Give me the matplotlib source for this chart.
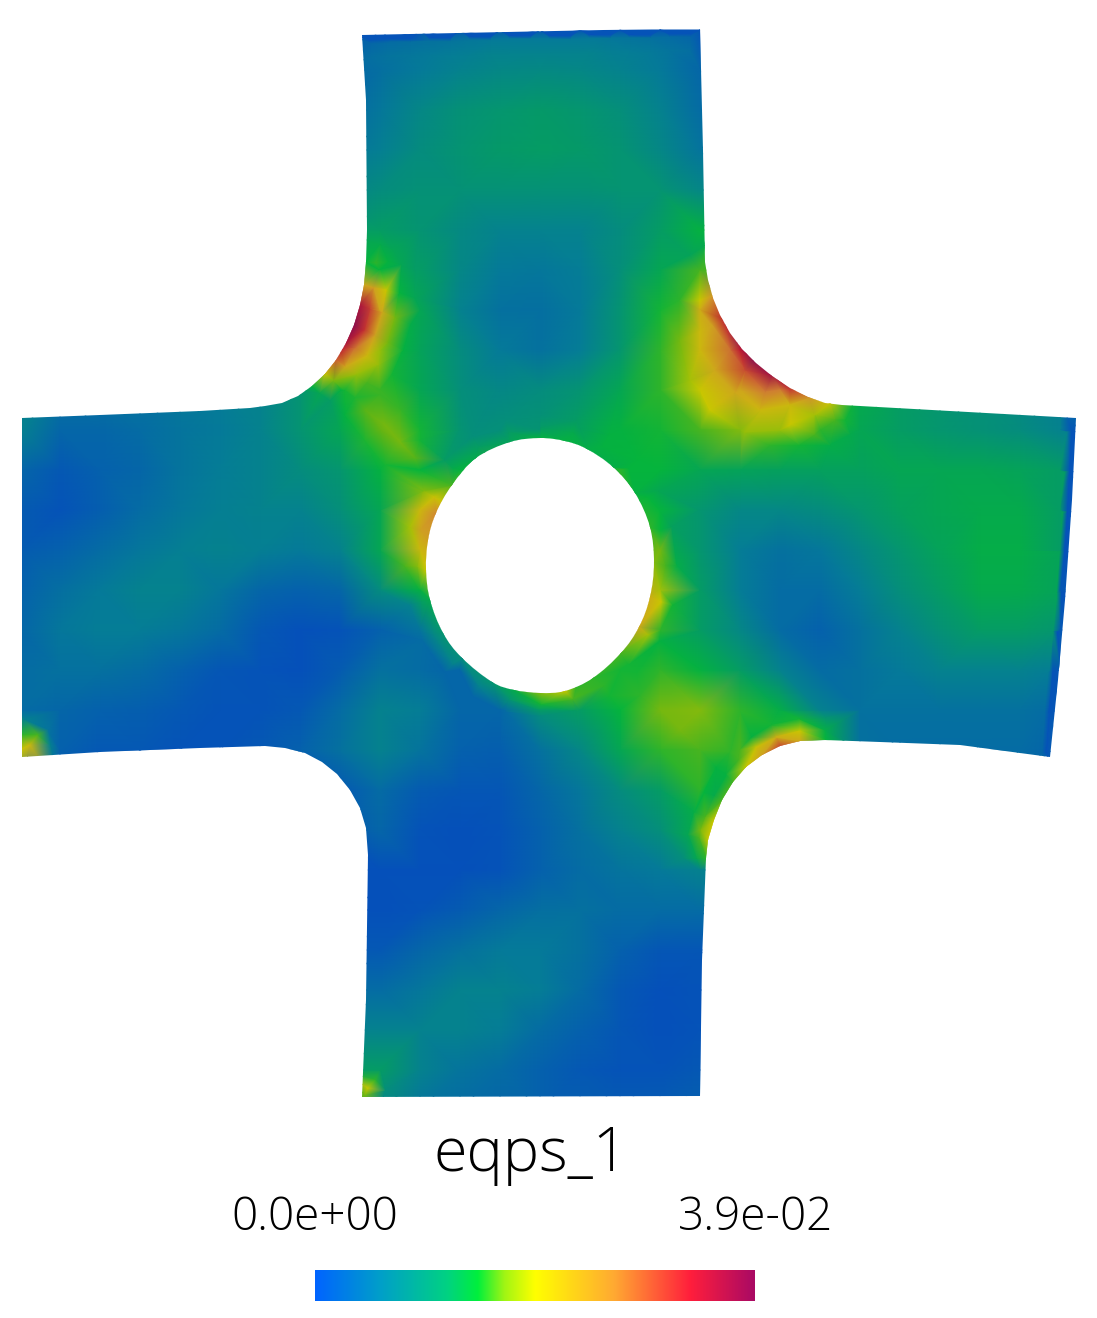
import numpy as np
import matplotlib
matplotlib.use('Agg')
import matplotlib.pyplot as plt
import matplotlib.tri as mtri
from matplotlib.colors import LinearSegmentedColormap
from matplotlib.path import Path
from matplotlib.patches import PathPatch

### Shape of the deformed plate (picture pixels)
outline_x = [362, 700, 703, 705, 708, 713, 720, 730, 742, 756, 772, 790, 808, 825, 842, 1076, 1072, 1065, 1058, 1050,
             960, 880, 825, 800, 780, 762, 746, 733, 722, 714, 708, 706, 702, 700, 362, 366, 368, 366, 360, 350, 337, 322,
             305, 285, 265, 200, 100, 22, 22, 100, 200, 250, 265, 282, 298, 312, 325, 336, 346, 354, 360, 364, 366, 367, 366]
outline_y = [35, 28, 150, 262, 280, 298, 315, 333, 349, 363, 376, 388, 397, 403, 405, 418, 500, 600, 680, 757,
             745, 742, 740, 741, 746, 755, 767, 782, 800, 820, 840, 858, 960, 1096, 1097, 1000, 855, 828, 808, 790, 774, 762,
             753, 748, 746, 748, 752, 757, 418, 415, 411, 408, 406, 403, 396, 386, 374, 360, 343, 325, 305, 285, 262, 230, 100]
hole_x = [540, 565, 587, 613, 635, 650, 654, 650, 639, 621, 593, 565, 540, 514, 492, 462, 443, 430,
          426, 428, 436, 452, 476, 510]
hole_y = [438, 441, 449, 467, 493, 527, 563, 597, 627, 653, 678, 691, 693, 690, 682, 658, 633, 600,
          570, 540, 513, 485, 458, 442]
hole_v = [.36, .36, .35, .35, .36, .4, .46, .58, .6, .42, .4, .5, .46, .34, .28, .25, .28, .34,
          .5, .62, .68, .42, .34, .32]

### eqps_1, as a fraction of the colour bar
# rows every 40 px, columns every 40 px starting at x0
row_y = [30, 70, 110, 150, 190, 230, 270, 310, 350]
row_x0 = [340] * 9
row_vals = [
    [.03, .03, .03, .03, .03, .03, .03, .03, .03, .03, .03],
    [.1, .13, .17, .2, .22, .23, .22, .2, .17, .1, .1],
    [.1, .16, .22, .26, .28, .29, .28, .25, .2, .12, .12],
    [.15, .19, .24, .27, .29, .3, .29, .27, .22, .15, .15],
    [.2, .24, .26, .26, .26, .26, .26, .27, .27, .22, .22],
    [.3, .3, .27, .23, .2, .2, .2, .24, .3, .36, .36],
    [.5, .37, .3, .22, .17, .16, .18, .25, .33, .42, .5],
    [.9, .6, .33, .2, .14, .13, .17, .27, .38, .58, .9],
    [.85, .47, .32, .24, .17, .14, .18, .28, .4, .55, .85],
]
arm_y = [390, 430, 470, 510, 550, 590, 630, 670, 710, 750, 790]
arm_vals = [
    [.2, .15, .15, .15, .17, .18, .2, .27, .36, .41, .33, .25, .22, .24, .27, .33, .4, .5, .6, .7, .6, .34, .3, .28, .25, .22, .18, .18],
    [.2, .1, .1, .12, .15, .17, .2, .27, .33, .44, .38, .27, .25, .27, .31, .36, .38, .42, .46, .47, .4, .33, .3, .28, .26, .24, .2, .03],
    [.1, .05, .08, .1, .15, .18, .2, .24, .28, .36, .37, .36, .4, .4, .4, .4, .37, .33, .32, .31, .31, .31, .33, .33, .33, .32, .3, .03],
    [.06, .03, .07, .12, .16, .19, .2, .2, .25, .33, .55, .5, .4, .4, .4, .4, .37, .28, .22, .22, .24, .28, .31, .33, .34, .34, .3, .03],
    [.06, .08, .12, .16, .19, .2, .19, .17, .2, .33, .55, .5, .4, .4, .4, .4, .45, .28, .18, .14, .16, .22, .28, .32, .35, .35, .3, .03],
    [.08, .13, .17, .2, .2, .16, .1, .08, .1, .24, .36, .3, .3, .3, .3, .5, .48, .3, .18, .12, .12, .18, .25, .3, .34, .34, .05, .03],
    [.1, .16, .18, .18, .16, .12, .05, .02, .03, .08, .15, .3, .35, .35, .38, .38, .4, .3, .22, .12, .08, .14, .2, .26, .3, .3, .05, .03],
    [.12, .14, .14, .12, .08, .04, .03, .02, .06, .14, .12, .1, .3, .4, .38, .38, .4, .36, .3, .2, .12, .14, .17, .2, .2, .2, .05, .03],
    [.12, .1, .08, .07, .05, .03, .03, .05, .12, .2, .18, .1, .1, .3, .3, .37, .45, .46, .4, .35, .2, .14, .14, .14, .14, .14, .05, .03],
    [.5, .08, .05, .05, .03, .03, .05, .08, .14, .2, .15, .08, .07, .14, .22, .33, .4, .42, .42, .75, .4, .14, .12, .12, .12, .12, .1, .08],
    [.05, .05, .05, .05, .05, .05, .05, .05, .05, .12, .06, .04, .04, .1, .16, .24, .3, .4, .5, .5, .2, .12, .12, .12, .12, .12, .12, .12],
]
leg_y = [830, 870, 910, 950, 990, 1030, 1070, 1110]
leg_vals = [
    [.05, .1, .03, .02, .03, .08, .14, .2, .25, .45, .45],
    [.02, .02, .02, .02, .03, .08, .12, .15, .17, .2, .2],
    [.02, .02, .03, .06, .1, .13, .14, .12, .12, .12, .12],
    [.05, .05, .1, .14, .17, .17, .14, .08, .04, .04, .04],
    [.12, .12, .16, .2, .2, .18, .12, .05, .02, .03, .03],
    [.2, .2, .2, .2, .18, .12, .08, .04, .02, .03, .03],
    [.3, .3, .2, .15, .12, .08, .05, .03, .03, .05, .05],
    [.3, .2, .15, .12, .1, .08, .07, .06, .06, .08, .08],
]
# two rings just outside the hole
ring_x = [541, 576, 609, 637, 659, 672, 677, 672, 659, 637, 609, 576, 541, 506, 473, 445, 423, 410, 405, 410, 423, 445, 473, 506,
          541, 573, 603, 629, 648, 661, 665, 661, 648, 629, 603, 573, 541, 509, 479, 453, 434, 421, 417, 421, 434, 453, 479, 509]
ring_y = [416, 421, 436, 460, 491, 527, 566, 605, 641, 672, 696, 711, 716, 711, 696, 672, 641, 605, 566, 527, 491, 460, 436, 421,
          428, 433, 446, 468, 497, 530, 566, 602, 635, 664, 686, 699, 704, 699, 686, 664, 635, 602, 566, 530, 497, 468, 446, 433]
ring_v = [.26, .3, .36, .37, .33, .31, .35, .38, .36, .38, .38, .3, .24, .12, .1, .1, .12, .2, .42, .48, .46, .3, .25, .25,
          .3, .34, .36, .37, .37, .37, .42, .5, .48, .38, .4, .42, .38, .27, .2, .2, .22, .3, .46, .62, .52, .34, .3, .3]
# top left fillet, arcs going away from the edge
fillet_tl_x = [366, 364, 360, 354, 346, 336, 325, 312, 376, 374, 370, 364, 355, 345, 334, 320,
               388, 386, 382, 375, 367, 356, 344, 330, 401, 399, 395, 388, 378, 367, 355,
               415, 414, 410, 403, 392, 380, 380, 392]
fillet_tl_y = [262, 285, 305, 325, 343, 360, 374, 386, 263, 288, 308, 330, 348, 367, 381, 393,
               262, 290, 312, 335, 356, 375, 390, 400, 265, 293, 318, 342, 365, 383, 398,
               270, 298, 325, 350, 375, 395, 245, 250]
fillet_tl_v = [.37, .6, .9, .98, .9, .75, .52, .36, .4, .62, .8, .82, .72, .6, .45, .33,
               .36, .5, .6, .62, .55, .47, .38, .3, .33, .37, .45, .45, .47, .42, .39,
               .3, .33, .35, .36, .38, .41, .34, .33]
# olive band running from that fillet towards the hole
band_x = [365, 385, 400, 415, 345, 365, 385, 400, 420]
band_y = [410, 425, 442, 458, 415, 440, 465, 410, 440]
band_v = [.43, .45, .45, .43, .36, .39, .38, .41, .38]
# top right fillet
fillet_tr_x = [725, 740, 755, 772, 790, 810, 830, 715, 708, 712, 730, 745, 765, 790, 815, 835, 700, 700, 715, 735, 760, 790, 815,
               680, 680, 690, 710, 745, 845, 850, 830, 800, 770, 705, 690]
fillet_tr_y = [320, 340, 358, 375, 390, 398, 403, 295, 270, 325, 350, 370, 392, 405, 415, 420, 300, 330, 370, 392, 410, 425, 435,
               300, 340, 380, 410, 432, 420, 435, 445, 445, 445, 245, 255]
fillet_tr_v = [.85, .95, 1.0, .92, .8, .65, .52, .68, .42, .62, .72, .78, .7, .55, .48, .42, .5, .55, .6, .6, .55, .5, .42,
               .4, .45, .48, .5, .47, .38, .34, .35, .38, .4, .34, .32]
# bottom right fillet
fillet_br_x = [825, 800, 780, 762, 746, 733, 722, 714, 708, 706, 825, 800, 776, 756, 739, 726, 714, 705, 699, 696,
               825, 800, 772, 752, 730, 716, 704, 694, 688, 684, 680, 640]
fillet_br_y = [740, 741, 746, 755, 767, 782, 800, 820, 840, 858, 730, 731, 737, 747, 760, 775, 795, 816, 838, 858,
               718, 719, 725, 737, 752, 768, 792, 812, 835, 858, 730, 695]
fillet_br_v = [.37, .6, .78, .62, .5, .42, .42, .5, .5, .4, .35, .5, .58, .52, .42, .36, .34, .42, .42, .33,
               .28, .38, .38, .36, .4, .36, .37, .35, .33, .25, .45, .4]
# small spots in the corners of the left and bottom arms
corner_x = [30, 38, 22, 50, 25, 48, 368, 375, 365, 385]
corner_y = [745, 735, 735, 745, 720, 730, 1088, 1080, 1095, 1090]
corner_v = [.55, .42, .4, .2, .2, .15, .5, .4, .45, .25]
# thin blue rim along the top and the right side: rim value and the value just inside it
rim_top_x = [370, 390, 410, 430, 450, 470, 490, 510, 530, 550, 570, 590, 610, 630, 650, 670, 690]
rim_top_y = [35, 34, 34, 33, 33, 32, 32, 31, 31, 31, 31, 30, 30, 30, 30, 29, 29]
rim_top_inner = [.1, .12, .13, .14, .15, .16, .17, .17, .17, .17, .17, .17, .16, .15, .14, .12, .1]
rim_right_x = [1075, 1073, 1071, 1068, 1065, 1061, 1057, 1053, 1050]
rim_right_y = [432, 472, 512, 552, 592, 632, 672, 712, 752]
rim_right_inner = [.2, .3, .31, .32, .32, .28, .18, .12, .1]
rim_value = .03

# colours as they come out on the lit surface, and on the colour bar
stops = [0, .18, .28, .37, .44, .5, .68, .855, 1]
surface_colors = ['#054bbe', '#057d96', '#05966e', '#05b43c', '#64b414', '#c8c800', '#d28c32', '#be1932', '#820a50']
bar_stops = [0, .15, .3, .37, .43, .5, .68, .855, 1]
bar_colors = ['#0064ff', '#00a0c8', '#00d282', '#00f03c', '#a0f514', '#ffff00', '#ffaa32', '#ff1e3c', '#aa0a64']
bar_left, bar_right, bar_top, bar_bottom = 315, 755, 1270, 1301

title = 'eqps_1'
low_label = '0.0e+00'
high_label = '3.9e-02'

surface_cmap = LinearSegmentedColormap.from_list('surface', list(zip(stops, surface_colors)))
bar_cmap = LinearSegmentedColormap.from_list('bar', list(zip(bar_stops, bar_colors)))

xs, ys, vs = [], [], []
for y, x0, vals in zip(row_y, row_x0, row_vals):
    for i, v in enumerate(vals):
        xs.append(x0 + 40 * i); ys.append(y); vs.append(v)
for y, vals in zip(arm_y, arm_vals):
    for i, v in enumerate(vals):
        xs.append(20 + 40 * i); ys.append(y); vs.append(v)
for y, vals in zip(leg_y, leg_vals):
    for i, v in enumerate(vals):
        xs.append(340 + 40 * i); ys.append(y); vs.append(v)
xs += ring_x + fillet_tl_x + band_x + fillet_tr_x + fillet_br_x + corner_x + hole_x
ys += ring_y + fillet_tl_y + band_y + fillet_tr_y + fillet_br_y + corner_y + hole_y
vs += ring_v + fillet_tl_v + band_v + fillet_tr_v + fillet_br_v + corner_v + hole_v
for x, y, v in zip(rim_top_x, rim_top_y, rim_top_inner):
    xs += [x, x, x]; ys += [y + 5, y + 8, y + 22]; vs += [rim_value, v, v + .03]
for x, y, v in zip(rim_right_x, rim_right_y, rim_right_inner):
    xs += [x - 4, x - 8]; ys += [y, y]; vs += [rim_value, v]
xs = np.array(xs, dtype=float)
ys = np.array(ys, dtype=float)
vs = np.array(vs)

fig = plt.figure(figsize=(10.97, 13.18), dpi=100)
ax = fig.add_axes([0, 0, 1, 1])

tri = mtri.Triangulation(xs, ys)
mesh = ax.tripcolor(tri, vs, shading='gouraud', cmap=surface_cmap, vmin=0, vmax=1)

# plate outline with the hole cut out, used as a clip. hole goes through the read points as a smooth curve
outer = np.column_stack([outline_x, outline_y]).astype(float)
inner = np.column_stack([hole_x, hole_y])[::-1].astype(float)
verts = list(outer) + [outer[0]]
codes = [Path.MOVETO] + [Path.LINETO] * (len(outer) - 1) + [Path.CLOSEPOLY]
n = len(inner)
verts.append(inner[0]); codes.append(Path.MOVETO)
for i in range(n):
    p0, p1, p2, p3 = inner[i - 1], inner[i], inner[(i + 1) % n], inner[(i + 2) % n]
    verts += [p1 + (p2 - p0) / 6, p2 - (p3 - p1) / 6, p2]
    codes += [Path.CURVE4] * 3
verts.append(inner[0]); codes.append(Path.CLOSEPOLY)
shape = Path(verts, codes)
patch = PathPatch(shape, transform=ax.transData, facecolor='none', edgecolor='none')
ax.add_patch(patch)
mesh.set_clip_path(patch)

ax.imshow(np.linspace(0, 1, 256).reshape(1, -1), cmap=bar_cmap, aspect='auto',
          extent=(bar_left, bar_right, bar_bottom, bar_top), interpolation='bilinear')

ax.text(531, 1171, title, ha='center', va='baseline', fontsize=44, family='Open Sans', weight='light', color='black')
ax.text(315, 1230, low_label, ha='center', va='baseline', fontsize=33, family='Open Sans', weight='light', color='black')
ax.text(756, 1230, high_label, ha='center', va='baseline', fontsize=33, family='Open Sans', weight='light', color='black')

ax.set_xlim(0, 1097)
ax.set_ylim(1318, 0)
ax.axis('off')
fig.savefig('out.png', dpi=100, facecolor='white')
